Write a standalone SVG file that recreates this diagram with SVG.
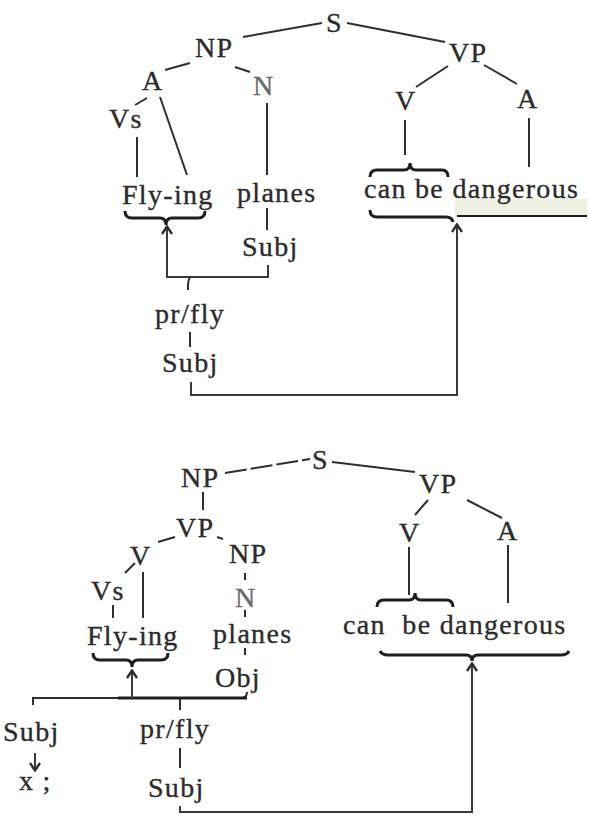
<svg xmlns="http://www.w3.org/2000/svg" width="589" height="816" viewBox="0 0 589 816">
  <defs>
    <style>
      .t { font-family: "Liberation Serif", "Times New Roman", serif; font-size: 28px; fill: #2b2b2b; stroke: #2b2b2b; stroke-width: 0.35px; letter-spacing: 1.3px; }
      .g { fill: #6a6a6a; stroke: #6a6a6a; }
      .ln { stroke: #2e2e2e; stroke-width: 2; fill: none; stroke-linecap: butt; }
      .br { stroke: #1e1e1e; stroke-width: 3; fill: none; }
      .arr { stroke: #3a3a3a; stroke-width: 2; fill: none; marker-end: url(#head); }
    </style>
    <!-- small open arrowhead pointing along the path direction -->
    <marker id="head" viewBox="0 0 12 12" refX="11" refY="6" markerWidth="12" markerHeight="12" markerUnits="userSpaceOnUse" orient="auto">
      <path d="M3,1 L10.5,6 L3,11" fill="none" stroke="#2e2e2e" stroke-width="2.4"/>
    </marker>
  </defs>
  <rect width="589" height="816" fill="#ffffff"/>

  <!-- ===== upper tree: "Flying planes can be dangerous", reading 1 ===== -->
  <g id="top-S"><text class="t" x="326" y="32">S</text></g>
  <g id="top-NP"><text class="t" x="195" y="57">NP</text></g>
  <g id="top-VP"><text class="t" x="449" y="62">VP</text></g>
  <g id="top-A1"><text class="t" x="142" y="90">A</text></g>
  <g id="top-N"><text class="t g" x="253" y="95">N</text></g>
  <g id="top-V"><text class="t" x="395" y="110">V</text></g>
  <g id="top-A2"><text class="t" x="517" y="108">A</text></g>
  <g id="top-Vs"><text class="t" x="109" y="128">Vs</text></g>
  <g id="top-flying"><text class="t" x="122" y="204">Fly-ing</text></g>
  <g id="top-planes"><text class="t" x="237" y="202">planes</text></g>
  <g id="top-words">
    <rect x="455" y="199" width="132" height="17" fill="#eef0e2"/>
    <text class="t" x="364" y="198">can be dangerous</text>
  </g>
  <g id="top-subj1"><text class="t" x="242" y="256">Subj</text></g>
  <g id="top-prfly"><text class="t" x="155" y="323">pr/fly</text></g>
  <g id="top-subj2"><text class="t" x="162" y="372">Subj</text></g>

  <g id="top-edges">
    <line class="ln" x1="243" y1="37" x2="322" y2="23"/>
    <line class="ln" x1="347" y1="23" x2="445" y2="42"/>
    <line class="ln" x1="165" y1="70" x2="190" y2="63"/>
    <line class="ln" x1="235" y1="67" x2="250" y2="72" stroke="#777"/>
    <line class="ln" x1="448" y1="66" x2="416" y2="87"/>
    <line class="ln" x1="484" y1="65" x2="517" y2="84"/>
    <line class="ln" x1="147" y1="98" x2="135" y2="105"/>
    <line class="ln" x1="137" y1="137" x2="137" y2="177"/>
    <line class="ln" x1="160" y1="97" x2="187" y2="175"/>
    <line class="ln" x1="267" y1="103" x2="267" y2="175"/>
    <line class="ln" x1="405" y1="120" x2="405" y2="155"/>
    <line class="ln" x1="529" y1="118" x2="529" y2="167"/>
    <line class="ln" x1="267" y1="208" x2="267" y2="230"/>
    <line class="ln" x1="190" y1="332" x2="190" y2="347"/>
    <!-- braces -->
    <path class="br" d="M125,211 Q125,218 132,218 L160,218 Q166,218 166,225 Q166,218 172,218 L198,218 Q205,218 205,211"/>
    <path class="br" d="M370,177 Q370,170 377,170 L404,170 Q410,170 410,163 Q410,170 416,170 L442,170 Q448,170 448,177"/>
    <path class="br" d="M370,210 Q370,217 377,217 L446,217 Q452,217 453,222"/>
    <line x1="457" y1="216" x2="587" y2="216" stroke="#1e1e1e" stroke-width="2"/>
    <!-- arrows -->
    <path class="arr" d="M268,265 L268,277 L167,277 L167,226"/>
    <path class="ln" d="M190,277 Q188,281 188,284 L188,290"/>
    <path class="arr" d="M191,382 L191,395 L457,395 L457,224"/>
  </g>

  <!-- ===== lower tree: reading 2 ===== -->
  <g id="bot-S"><text class="t" x="312" y="469">S</text></g>
  <g id="bot-NP"><text class="t" x="181" y="487">NP</text></g>
  <g id="bot-VP1"><text class="t" x="419" y="493">VP</text></g>
  <g id="bot-VP2"><text class="t" x="176" y="537">VP</text></g>
  <g id="bot-V1"><text class="t" x="130" y="565">V</text></g>
  <g id="bot-NP2"><text class="t" x="229" y="563">NP</text></g>
  <g id="bot-V2"><text class="t" x="399" y="542">V</text></g>
  <g id="bot-A"><text class="t" x="497" y="540">A</text></g>
  <g id="bot-Vs"><text class="t" x="91" y="600">Vs</text></g>
  <g id="bot-N"><text class="t g" x="235" y="607">N</text></g>
  <g id="bot-flying"><text class="t" x="87" y="645">Fly-ing</text></g>
  <g id="bot-planes"><text class="t" x="213" y="643">planes</text></g>
  <g id="bot-words"><text class="t" x="343" y="634" xml:space="preserve">can  be dangerous</text></g>
  <g id="bot-obj"><text class="t" x="215" y="687">Obj</text></g>
  <g id="bot-subj1"><text class="t" x="3" y="741">Subj</text></g>
  <g id="bot-prfly"><text class="t" x="140" y="738">pr/fly</text></g>
  <g id="bot-x"><text class="t" x="19" y="790">x ;</text></g>
  <g id="bot-subj2"><text class="t" x="148" y="797">Subj</text></g>

  <g id="bot-edges">
    <line class="ln" x1="225" y1="473" x2="310" y2="459" stroke-dasharray="22,4"/>
    <line class="ln" x1="332" y1="462" x2="415" y2="472"/>
    <line class="ln" x1="203" y1="492" x2="203" y2="510"/>
    <line class="ln" x1="175" y1="537" x2="158" y2="542"/>
    <line class="ln" x1="217" y1="537" x2="223" y2="539"/>
    <line class="ln" x1="428" y1="500" x2="415" y2="515"/>
    <line class="ln" x1="467" y1="500" x2="502" y2="518"/>
    <line class="ln" x1="135" y1="563" x2="125" y2="573"/>
    <line class="ln" x1="143" y1="572" x2="143" y2="618"/>
    <line class="ln" x1="113" y1="605" x2="113" y2="618"/>
    <line class="ln" x1="245" y1="573" x2="245" y2="580"/>
    <line class="ln" x1="245" y1="610" x2="245" y2="617"/>
    <line class="ln" x1="409" y1="547" x2="409" y2="595"/>
    <line class="ln" x1="508" y1="545" x2="508" y2="603"/>
    <line class="ln" x1="245" y1="648" x2="245" y2="655"/>
    <!-- braces -->
    <path class="br" d="M377,607 Q377,600 384,600 L409,600 Q415,600 415,593 Q415,600 421,600 L446,600 Q453,600 453,607"/>
    <path class="br" d="M93,653 Q93,660 100,660 L126,660 Q132,660 132,667 Q132,660 138,660 L161,660 Q168,660 168,653"/>
    <path class="br" d="M380,651 Q382,655 388,655 L466,655 Q472,655 472,661 Q472,655 478,655 L561,655 Q567,655 569,651"/>
    <!-- argument links -->
    <path class="ln" d="M247,692 Q247,698 241,698 L33,698 L33,705"/>
    <line x1="118" y1="698" x2="247" y2="698" stroke="#1e1e1e" stroke-width="3"/>
    <path class="arr" d="M132,698 L132,670"/>
    <line class="ln" x1="180" y1="698" x2="180" y2="710"/>
    <path class="arr" d="M35,753 L35,771"/>
    <line class="ln" x1="180" y1="748" x2="180" y2="768" stroke="#777"/>
    <path class="arr" d="M180,806 L180,812 L472,812 L472,663"/>
  </g>
</svg>
